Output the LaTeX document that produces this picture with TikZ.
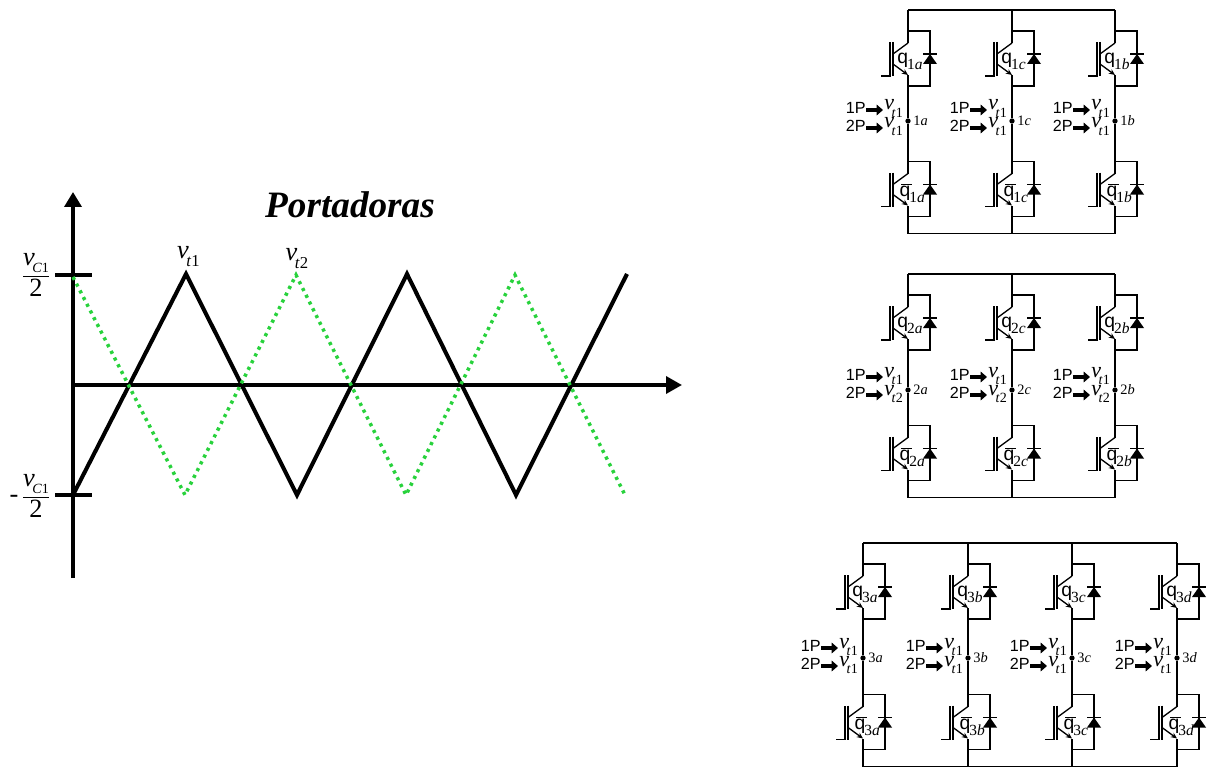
\documentclass[tikz,border=0pt]{standalone}
\usepackage{fontspec}
\setmainfont{Liberation Serif}
\newfontfamily\arialf{Liberation Sans}
\usetikzlibrary{arrows.meta}

\definecolor{verdeport}{RGB}{40,210,60}

% v with a subscript: subscript, size of the subscript, drop of the subscript
\newcommand{\vtens}[3]{\textit{v}\kern-1.4pt\raisebox{-#3}[\height][0pt]{\fontsize{#2}{#2}\selectfont #1}}
\newcommand{\igbt}[4]{
	\begin{scope}[shift={(#1,#2)}]
		\coordinate (#3c) at (0,0);
		\coordinate (#3e) at (0,55);
		\draw[fio] (0,12) -- (0,0) -- (22,0) -- (22,55) -- (0,55) -- (0,44);
		\draw[fio] (-27,45) -- (-18,45) -- (-18,11);
		\draw[fio] (-15,11) -- (-15,45);
		\draw[fio] (0,12) -- (-15,23);
		\draw[fio,-{Stealth[length=3.5pt,width=3pt]}] (-15,33) -- (0,44);
		\draw[fio] (15,23) -- (29,23);
		\fill (22,23) -- (15,33) -- (29,33) -- cycle;
	\end{scope}
}
% leg x, rail y, dot y, first row y, bridge, letter, second carrier
\newcommand{\braco}[7]{
	\coordinate (t#5#6) at (#1,#2);
	\coordinate (b#5#6) at (#1,#2+223.5);
	\igbt{#1}{#2+21}{su#5#6}{}
	\igbt{#1}{#2+151.5}{sd#5#6}{}
	\node[ponto] (n#5#6) at (#1,#3) {};
	\node[rotulo] (l#5#6) at (#1+5,#3) {#5\textit{#6}};
	\node[chaveq] (qu#5#6) at (#1-11,#2+51) {q\kern-0.6pt\raisebox{-0.3em}{\fontsize{8.8}{9}\rmfamily 
		\selectfont #5\textit{#6}}};
	\node[chaveq] (qd#5#6) at (#1-7,#2+183) {$\overline{\hbox{\kern-1pt q\kern1pt}}$\kern-1.6pt\raisebox{-0.3em}{\fontsize{8.8}{9}\rmfamily 
		\selectfont #5\textit{#6}}};
	\node[porta] (pa#5#6) at (#1-42,#4-2) {1P};
	\node[porta] (pb#5#6) at (#1-42,#4+16) {2P};
	\node[tens] (va#5#6) at (#1-24,#4) {\vtens{\textit{t}1}{8}{4.3pt}};
	\node[tens] (vb#5#6) at (#1-24,#4+18) {\vtens{\textit{t}#7}{8}{4.3pt}};
	\draw[seta] (#1-42,#4) -- (#1-25,#4);
	\draw[seta] (#1-42,#4+18) -- (#1-25,#4+18);
	\draw[fio] (t#5#6) -- (su#5#6c);
	\draw[fio] (su#5#6e) -- (n#5#6) -- (sd#5#6c);
	\draw[fio] (sd#5#6e) -- (b#5#6);
}

\begin{document}
\begin{tikzpicture}[
	x=0.02cm, y=-0.02cm,
	fio/.style={line width=0.75pt},
	eixo/.style={line width=2pt},
	seta/.style={line width=2pt, -{Triangle[length=3.6pt,width=6pt]}},
	ponto/.style={circle, fill=black, inner sep=0pt, minimum size=3pt},
	rotulo/.style={anchor=west, inner sep=0pt, font=\fontsize{8.2}{9}\selectfont},
	chaveq/.style={anchor=west, inner sep=0pt, font=\arialf\fontsize{11}{12}\selectfont},
	porta/.style={anchor=east, inner sep=0pt, font=\arialf\fontsize{9.2}{10}\selectfont},
	tens/.style={anchor=base west, inner sep=0pt, font=\fontsize{12.5}{13}\selectfont},
	fracao/.style={anchor=base, inner sep=0pt, font=\fontsize{15}{16}\selectfont}
	]
	\useasboundingbox (0,0) rectangle (1207,767);
	
	% carriers
	\coordinate (origem) at (73,385);
	\coordinate (topo) at (73,192);
	\coordinate (base) at (73,578);
	\coordinate (fim) at (682,385);
	\draw[eixo,-{Triangle[length=0.3cm,width=0.34cm]}] (base) -- (topo);
	\draw[eixo,-{Triangle[length=0.32cm,width=0.34cm]}] (origem) -- (fim);
	\coordinate (ma) at (55,275);
	\coordinate (mb) at (92,275);
	\coordinate (mc) at (55,495);
	\coordinate (md) at (92,495);
	\draw[eixo] (ma) -- (mb);
	\draw[eixo] (mc) -- (md);
	\draw[line width=2.3pt, miter limit=10] (73,495) -- (186,274) -- (297,495) -- (407,274) -- (516,495) -- (627,274);
	\draw[verdeport, line width=2pt, dash pattern=on 1.8pt off 2.5pt] (73,277) -- (185,495) -- (296,275) -- (406,495) -- (515,275) -- (625,495);
	
	\node[font=\bfseries\itshape\fontsize{21.2}{24}\selectfont] (titulo) at (350,205) {Portadoras};
	\node[fracao] (vt1) at (188.5,258) {\vtens{\textit{t}1}{9.5}{5pt}};
	\node[fracao] (vt2) at (297,260) {\vtens{\textit{t}2}{9.5}{5pt}};
	\node[fracao] (vcp) at (36,282.6) {$\displaystyle\frac{\hbox{\vtens{\textit{C}1}{8}{4.2pt}}}{\hbox{\raisebox{2pt}{2}}}$};
	\node[fracao] (vcn) at (36,503.6) {$\displaystyle\frac{\hbox{\vtens{\textit{C}1}{8}{4.2pt}}}{\hbox{\raisebox{2pt}{2}}}$};
	\node[fracao] (menos) at (14,502) {-};
	
	% first bridge
	\foreach \x/\l in {908/a,1012/c,1115/b}{\braco{\x}{10}{121}{110}{1}{\l}{1}}
	\draw[fio] (t1a) -- (t1c) -- (t1b);
	\draw[fio] (b1a) -- (b1c) -- (b1b);
	
	% second bridge
	\foreach \x/\l in {908/a,1012/c,1115/b}{\braco{\x}{274}{390}{377}{2}{\l}{2}}
	\draw[fio] (t2a) -- (t2c) -- (t2b);
	\draw[fio] (b2a) -- (b2c) -- (b2b);
	
	% third bridge
	\foreach \x/\l in {863/a,968/b,1072/c,1177/d}{\braco{\x}{543}{658}{648}{3}{\l}{1}}
	\draw[fio] (t3a) -- (t3b) -- (t3c) -- (t3d);
	\draw[fio] (b3a) -- (b3b) -- (b3c) -- (b3d);
\end{tikzpicture}
\end{document}
